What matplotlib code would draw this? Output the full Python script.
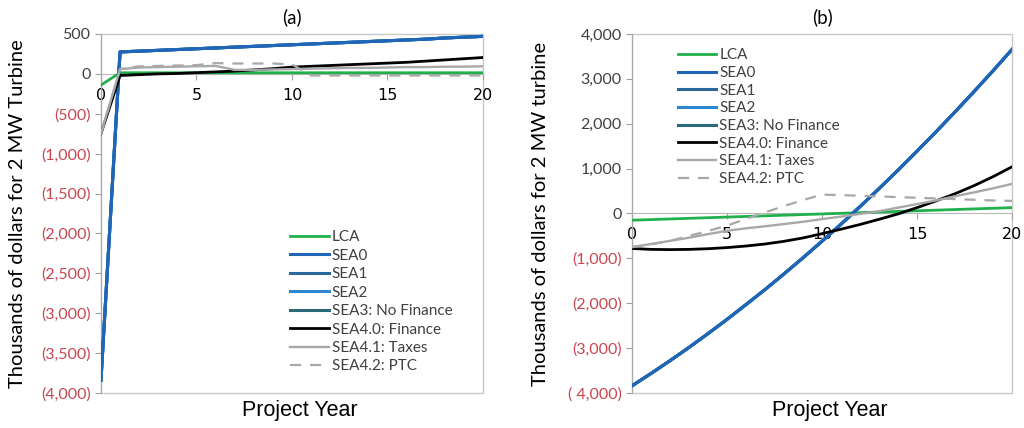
import matplotlib.pyplot as plt
from matplotlib.patches import Rectangle

years = list(range(21))

# panel (a): annual values, thousands of dollars
a_lca = [-140, 14, 14, 14, 14, 14, 14, 14, 14, 14, 14, 14, 14, 14, 14, 14, 14, 14, 14, 14, 14]
a_sea0 = [-3840, 275, 285, 295, 305, 315, 325, 335, 345, 355, 365, 375, 385, 395, 405, 415, 425, 435, 450, 460, 470]
a_sea1 = [-3840, 275, 285, 295, 305, 315, 325, 335, 345, 355, 365, 375, 385, 395, 405, 415, 425, 435, 450, 460, 470]
a_sea2 = [-3840, 275, 285, 295, 305, 315, 325, 335, 345, 355, 365, 375, 385, 395, 405, 415, 425, 435, 450, 460, 470]
a_sea3 = [-3840, 275, 285, 295, 305, 315, 325, 335, 345, 355, 365, 375, 385, 395, 405, 415, 425, 435, 450, 460, 470]
a_sea40 = [-750, -20, -10, 0, 5, 15, 25, 35, 50, 65, 85, 95, 105, 115, 125, 135, 145, 160, 175, 190, 205]
a_sea41 = [-750, 60, 80, 85, 90, 95, 100, 50, 50, 55, 60, 65, 70, 75, 75, 80, 85, 85, 90, 90, 95]
a_sea42 = [-750, 60, 95, 100, 105, 110, 135, 130, 130, 130, 120, -20, -20, -20, -20, -20, -20, -20, -20, -20, -20]

# panel (b): cumulative values
b_lca = [-150, -136, -122, -108, -94, -80, -66, -52, -38, -24, -10, 4, 18, 32, 46, 60, 74, 88, 102, 116, 130]
b_sea0 = [-3840, -3565, -3280, -2985, -2677, -2360, -2030, -1695, -1346, -987, -618, -238, 153, 554, 965, 1388, 1820, 2263, 2716, 3180, 3655]
b_sea1 = [-3840, -3565, -3280, -2985, -2677, -2360, -2030, -1695, -1346, -987, -618, -238, 153, 554, 965, 1388, 1820, 2263, 2716, 3180, 3655]
b_sea2 = [-3840, -3565, -3280, -2985, -2677, -2360, -2030, -1695, -1346, -987, -618, -238, 153, 554, 965, 1388, 1820, 2263, 2716, 3180, 3655]
b_sea3 = [-3840, -3565, -3280, -2985, -2677, -2360, -2030, -1695, -1346, -987, -618, -238, 153, 554, 965, 1388, 1820, 2263, 2716, 3180, 3655]
b_sea40 = [-780, -800, -805, -800, -785, -760, -725, -680, -620, -545, -450, -350, -245, -130, -10, 130, 280, 440, 620, 820, 1040]
b_sea41 = [-750, -680, -610, -540, -460, -385, -330, -285, -235, -185, -125, -70, -10, 50, 130, 210, 290, 385, 470, 560, 660]
b_sea42 = [-750, -690, -610, -500, -390, -270, -120, 25, 165, 300, 420, 410, 395, 380, 365, 350, 335, 320, 305, 290, 280]

labels = ['LCA', 'SEA0', 'SEA1', 'SEA2', 'SEA3: No Finance', 'SEA4.0: Finance',
          'SEA4.1: Taxes', 'SEA4.2: PTC']
colors = ['#21b04b', '#1f66b8', '#2b6899', '#2f86d3', '#2b6a78', '#000000', '#a8a8a8', '#a8a8a8']
styles = ['-', '-', '-', '-', '-', '-', '-', (0, (5, 4))]
widths = [2.0, 2.2, 2.2, 2.2, 2.2, 2.0, 1.7, 1.6]
zorders = [3, 6, 5, 4, 3.5, 7, 8, 9]

a_ticks = [500, 0, -500, -1000, -1500, -2000, -2500, -3000, -3500, -4000]
a_tick_labels = ['500', '0', '(500)', '(1,000)', '(1,500)', '(2,000)', '(2,500)',
                 '(3,000)', '(3,500)', '(4,000)']
b_ticks = [4000, 3000, 2000, 1000, 0, -1000, -2000, -3000, -4000]
b_tick_labels = ['4,000', '3,000', '2,000', '1,000', '0', '(1,000)', '(2,000)',
                 '(3,000)', '( 4,000)']
x_ticks = [0, 5, 10, 15, 20]

fig = plt.figure(figsize=(10.24, 4.28), dpi=100)
ax1 = fig.add_axes([0.0986, 0.0818, 0.373, 0.8388])
ax2 = fig.add_axes([0.6172, 0.0818, 0.3711, 0.8388])


def draw(ax, series, ticks, tick_labels, ylim, title, ylabel, leg_anchor, spacing):
    for vals, lab, c, ls, lw, z in zip(series, labels, colors, styles, widths, zorders):
        ax.plot(years, vals, color=c, linestyle=ls, linewidth=lw, label=lab, zorder=z)
    ax.set_xlim(0, 20)
    ax.set_ylim(*ylim)
    ax.set_xticks(x_ticks)
    ax.set_yticks(ticks)
    ax.set_yticklabels(tick_labels)
    for t, v in zip(ax.get_yticklabels(), ticks):
        t.set_color('#c8464f' if v < 0 else '#404040')
    for t in ax.get_xticklabels():
        t.set_color('#404040')
    ax.tick_params(labelsize=11.5, length=4, color='#a0a0a0', width=0.8)
    ax.tick_params(axis='x', pad=6)
    for lab in ax.get_xticklabels() + ax.get_yticklabels():
        lab.set_fontfamily('Lato')
    ax.spines['bottom'].set_position(('data', 0))
    for s in ['top', 'right']:
        ax.spines[s].set_visible(False)
    ax.spines['bottom'].set_color('#b8b8b8')
    ax.spines['left'].set_color('#a8a8a8')
    ax.add_patch(Rectangle((0, 0), 1, 1, transform=ax.transAxes, fill=False,
                           edgecolor='#c8c8c8', linewidth=1.0, zorder=1, clip_on=False))
    ax.set_title(title, fontsize=13.5, fontfamily='Lato', pad=8)
    ax.set_ylabel(ylabel, fontsize=14.5, fontfamily='Lato')
    ax.set_xlabel('Project Year', fontsize=15.5, fontfamily='Liberation Sans')
    ax.xaxis.set_label_coords(0.52, -0.02)
    leg = ax.legend(loc='upper left', bbox_to_anchor=leg_anchor, frameon=False,
                    handlelength=2.5, handletextpad=0.2, labelspacing=spacing,
                    borderaxespad=0, prop={'family': 'Lato', 'size': 11})
    for t in leg.get_texts():
        t.set_color('#404040')


draw(ax1, [a_lca, a_sea0, a_sea1, a_sea2, a_sea3, a_sea40, a_sea41, a_sea42],
     a_ticks, a_tick_labels, (-4000, 500), '(a)',
     'Thousands of dollars for 2 MW Turbine', (0.48, 0.47), 0.29)
draw(ax2, [b_lca, b_sea0, b_sea1, b_sea2, b_sea3, b_sea40, b_sea41, b_sea42],
     b_ticks, b_tick_labels, (-4000, 4000), '(b)',
     'Thousands of dollars for 2 MW turbine', (0.105, 0.977), 0.24)
ax1.yaxis.set_label_coords(-0.196, 0.5)
ax2.yaxis.set_label_coords(-0.218, 0.5)

fig.savefig('out.png', dpi=100)
